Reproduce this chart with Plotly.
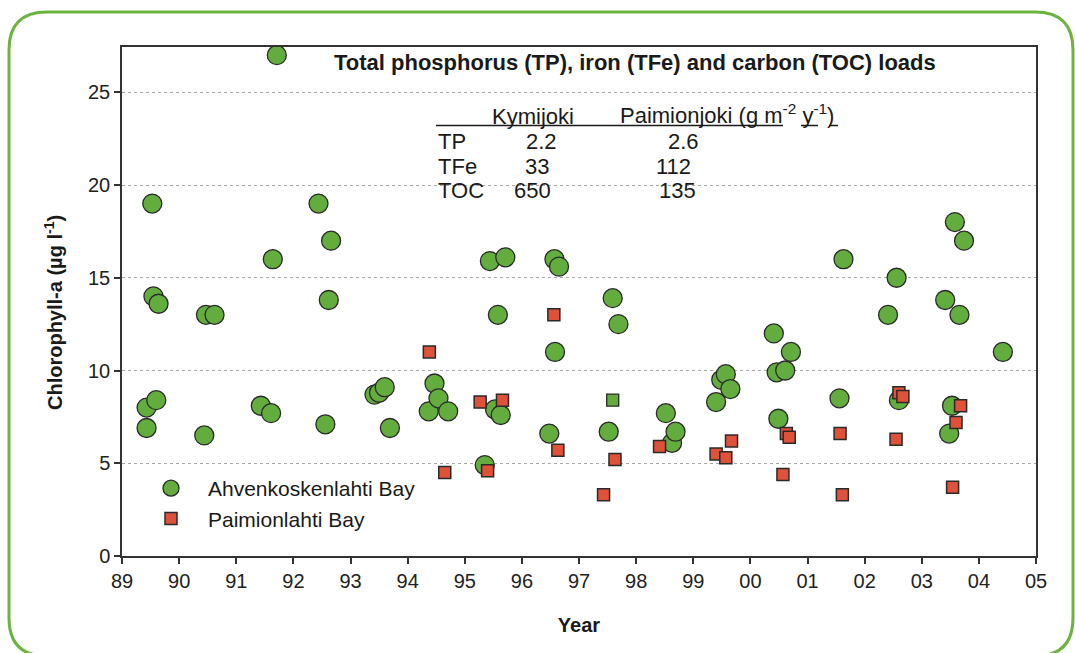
import plotly.graph_objects as go

# ---------------- data ----------------
ahv_year = [1989.43, 1989.43, 1989.53, 1989.55, 1989.60, 1989.64, 1990.44, 1990.47, 1990.62,
            1991.43, 1991.61, 1991.64, 1991.71, 1992.44, 1992.56, 1992.62, 1992.66,
            1993.42, 1993.50, 1993.60, 1993.69, 1994.37, 1994.47, 1994.54, 1994.71,
            1995.35, 1995.44, 1995.53, 1995.58, 1995.63, 1995.71, 1996.48, 1996.57, 1996.58, 1996.65,
            1997.52, 1997.59, 1997.69, 1998.52, 1998.63, 1998.69, 1999.40, 1999.49, 1999.57, 1999.65,
            2000.41, 2000.46, 2000.49, 2000.61, 2000.71, 2001.56, 2001.63, 2002.41, 2002.56, 2002.60,
            2003.41, 2003.48, 2003.53, 2003.58, 2003.66, 2003.74, 2004.42]
ahv_chl = [8.0, 6.9, 19.0, 14.0, 8.4, 13.6, 6.5, 13.0, 13.0,
           8.1, 7.7, 16.0, 27.0, 19.0, 7.1, 13.8, 17.0,
           8.7, 8.8, 9.1, 6.9, 7.8, 9.3, 8.5, 7.8,
           4.9, 15.9, 7.9, 13.0, 7.6, 16.1, 6.6, 16.0, 11.0, 15.6,
           6.7, 13.9, 12.5, 7.7, 6.1, 6.7, 8.3, 9.5, 9.8, 9.0,
           12.0, 9.9, 7.4, 10.0, 11.0, 8.5, 16.0, 13.0, 15.0, 8.4,
           13.8, 6.6, 8.1, 18.0, 13.0, 17.0, 11.0]

pai_year = [1994.38, 1994.65, 1995.27, 1995.40, 1995.66, 1996.56, 1996.63, 1997.43, 1997.63,
            1998.41, 1999.40, 1999.57, 1999.67, 2000.57, 2000.63, 2000.68, 2001.57, 2001.61,
            2002.55, 2002.60, 2002.67, 2003.54, 2003.60, 2003.68]
pai_chl = [11.0, 4.5, 8.3, 4.6, 8.4, 13.0, 5.7, 3.3, 5.2,
           5.9, 5.5, 5.3, 6.2, 4.4, 6.6, 6.4, 6.6, 3.3,
           6.3, 8.8, 8.6, 3.7, 7.2, 8.1]

# odd green square point in the original figure
odd_year = [1997.59]
odd_chl = [8.4]

tick_years = list(range(1989, 2006))
tick_labels = ["89", "90", "91", "92", "93", "94", "95", "96", "97", "98", "99",
               "00", "01", "02", "03", "04", "05"]

table_rows = ["TP", "TFe", "TOC"]
kymi_vals = ["2.2", "33", "650"]
paimi_vals = ["2.6", "112", "135"]

# ---------------- styling ----------------
GREEN = "#63ad3e"
RED = "#e0513a"
EDGE = "#2a2a2a"
FONT = "Liberation Sans, Arial, sans-serif"
W, H = 1075, 653
L, R, T, B = 122, 1036, 47, 556


def px(x):
    return (x - L) / (R - L)


def py(y):
    return (B - y) / (B - T)


fig = go.Figure()
fig.add_trace(go.Scatter(
    x=ahv_year, y=ahv_chl, mode="markers", name="Ahvenkoskenlahti Bay",
    marker=dict(symbol="circle", size=19, color=GREEN, line=dict(color=EDGE, width=1.3))))
fig.add_trace(go.Scatter(
    x=pai_year, y=pai_chl, mode="markers", name="Paimionlahti Bay",
    marker=dict(symbol="square", size=12, color=RED, line=dict(color=EDGE, width=1.5))))
fig.add_trace(go.Scatter(
    x=odd_year, y=odd_chl, mode="markers", showlegend=False,
    marker=dict(symbol="square", size=12, color=GREEN, line=dict(color=EDGE, width=1.3))))

annotations = []
# title
annotations.append(dict(text="<b>Total phosphorus (TP), iron (TFe) and carbon (TOC) loads</b>",
                        x=px(635), y=py(63), xref="paper", yref="paper", showarrow=False,
                        xanchor="center", yanchor="middle",
                        font=dict(family=FONT, size=22, color="#1a1a1a")))
# y title
annotations.append(dict(text="<b>Chlorophyll-a (µg l<sup>-1</sup>)</b>",
                        x=px(53), y=py(313), xref="paper", yref="paper", showarrow=False,
                        textangle=-90, xanchor="center", yanchor="middle",
                        font=dict(family=FONT, size=20, color="#1a1a1a")))
# table header
tfont = dict(family=FONT, size=22, color="#1a1a1a")
annotations.append(dict(text="Kymijoki", x=px(533), y=py(116), xref="paper", yref="paper",
                        showarrow=False, xanchor="center", yanchor="middle", font=tfont))
annotations.append(dict(text="Paimionjoki (g m<sup>-2</sup> y<sup>-1</sup>)", x=px(618), y=py(114),
                        xref="paper", yref="paper", showarrow=False, xanchor="left",
                        yanchor="middle", font=tfont))
row_y = [141, 166, 190]
kymi_x = [541, 537, 532]
paimi_x = [683, 673, 677]
for lab, kv, pv, yy, kx, pxx in zip(table_rows, kymi_vals, paimi_vals, row_y, kymi_x, paimi_x):
    annotations.append(dict(text=lab, x=px(436), y=py(yy), xref="paper", yref="paper",
                            showarrow=False, xanchor="left", yanchor="middle", font=tfont))
    annotations.append(dict(text=kv, x=px(kx), y=py(yy), xref="paper", yref="paper",
                            showarrow=False, xanchor="center", yanchor="middle", font=tfont))
    annotations.append(dict(text=pv, x=px(pxx), y=py(yy), xref="paper", yref="paper",
                            showarrow=False, xanchor="center", yanchor="middle", font=tfont))

shapes = []
# table underlines
for x0, x1 in [(436, 783), (801, 818), (829, 838)]:
    shapes.append(dict(type="line", xref="paper", yref="paper", x0=px(x0), x1=px(x1),
                       y0=py(125.5), y1=py(125.5), line=dict(color="#1a1a1a", width=1.5)))

# rounded green frame around the whole figure
bx0, bx1, by0, by1, rr = 9, 1073, 12, 656, 38


def pt(x, y):
    return f"{px(x):.5f},{py(y):.5f}"


path = (f"M {pt(bx0 + rr, by0)} L {pt(bx1 - rr, by0)} "
        f"Q {pt(bx1, by0)} {pt(bx1, by0 + rr)} L {pt(bx1, by1 - rr)} "
        f"Q {pt(bx1, by1)} {pt(bx1 - rr, by1)} L {pt(bx0 + rr, by1)} "
        f"Q {pt(bx0, by1)} {pt(bx0, by1 - rr)} L {pt(bx0, by0 + rr)} "
        f"Q {pt(bx0, by0)} {pt(bx0 + rr, by0)} Z")
shapes.append(dict(type="path", xref="paper", yref="paper", path=path,
                   line=dict(color="#6cb33f", width=3), layer="below"))

axis_font = dict(family=FONT, size=20, color="#222222")
fig.update_layout(
    width=W, height=H,
    margin=dict(l=L, r=W - R, t=T, b=H - B, autoexpand=False),
    paper_bgcolor="white", plot_bgcolor="white",
    font=dict(family=FONT, color="#222222"),
    showlegend=True,
    legend=dict(x=px(134), y=py(468), xanchor="left", yanchor="top",
                bgcolor="rgba(0,0,0,0)", itemwidth=64,
                font=dict(family=FONT, size=21, color="#1a1a1a"), tracegroupgap=0),
    xaxis=dict(range=[1989, 2005], tickmode="array", tickvals=tick_years, ticktext=tick_labels,
               showline=True, linecolor="#333333", linewidth=1.5, mirror=True,
               ticks="outside", ticklen=6, tickwidth=1.5, tickcolor="#333333",
               showgrid=False, zeroline=False, tickfont=axis_font,
               title=dict(text="<b>Year</b>", font=dict(family=FONT, size=20, color="#1a1a1a"),
                          standoff=27)),
    yaxis=dict(range=[0, 27.44], tickmode="array", tickvals=[0, 5, 10, 15, 20, 25],
               showline=True, linecolor="#333333", linewidth=1.5, mirror=True,
               ticks="outside", ticklen=6, tickwidth=1.5, tickcolor="#333333",
               showgrid=True, gridcolor="#a8a8a8", griddash="dot", gridwidth=1,
               zeroline=False, tickfont=axis_font),
    annotations=annotations,
    shapes=shapes,
)

fig.write_html("out.html", config={"displayModeBar": False},
               post_script="document.body.style.margin='0';document.body.style.overflow='hidden';")
